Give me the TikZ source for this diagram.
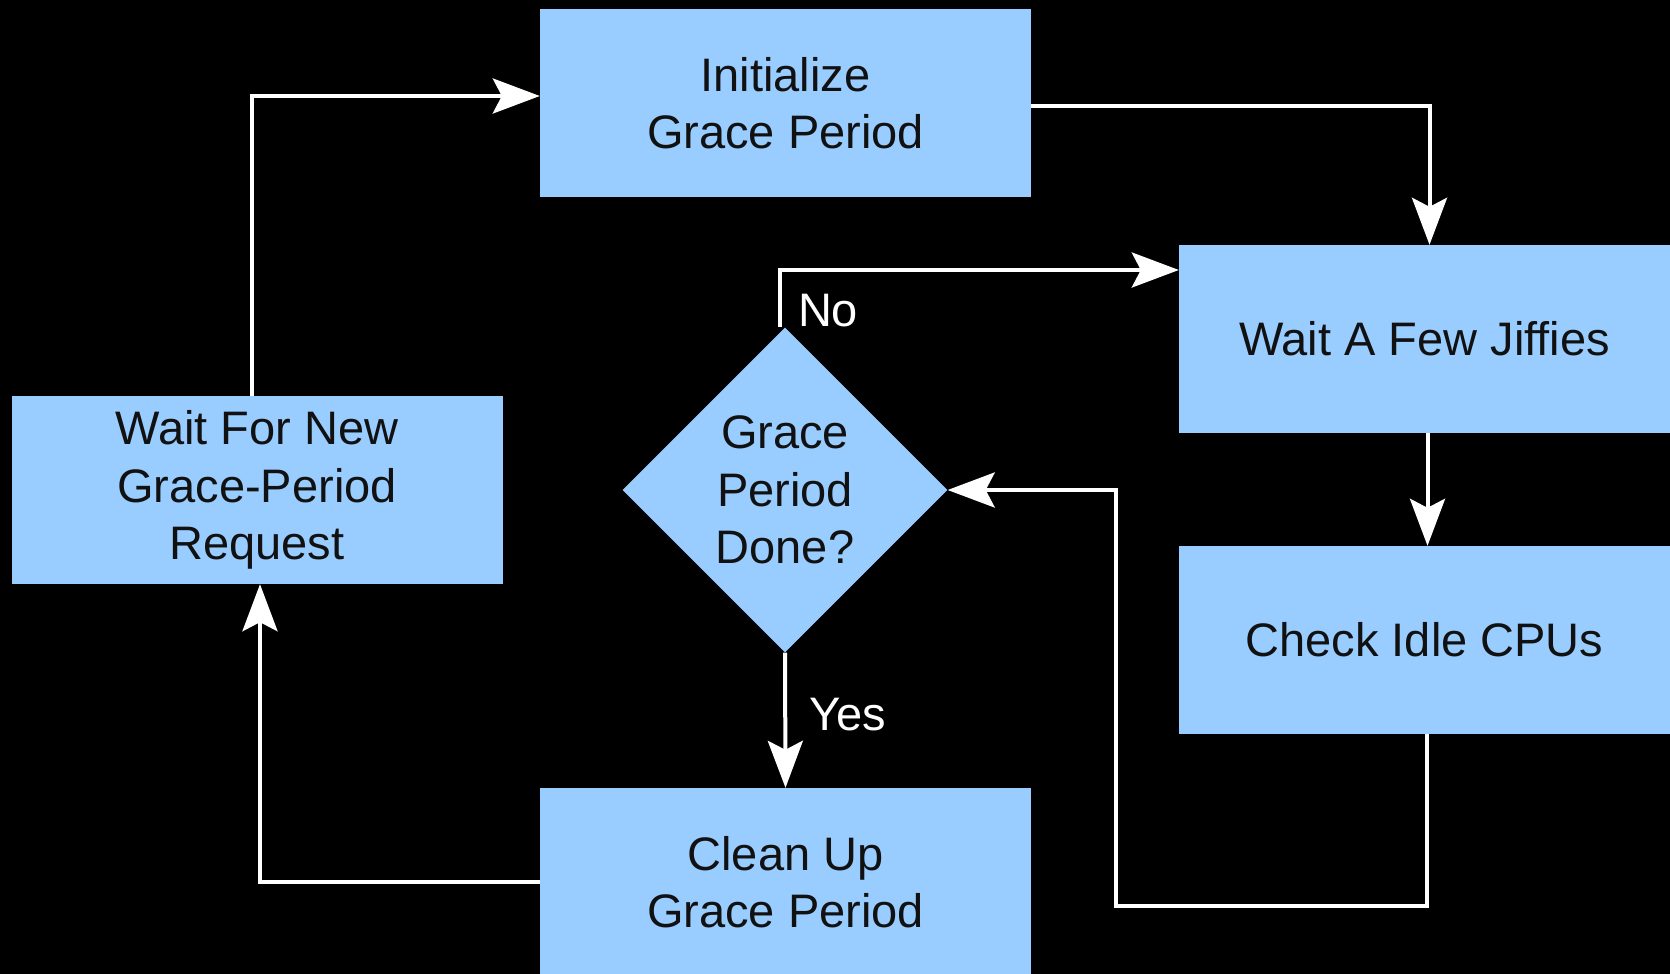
\documentclass[tikz,border=0pt]{standalone}
\usepackage{fontspec}
\setmainfont{Liberation Sans}
\usetikzlibrary{arrows.meta,shapes.geometric,positioning}

\definecolor{boxblue}{HTML}{99CCFF}
\definecolor{boxtext}{HTML}{111111}

\begin{document}
\begin{tikzpicture}[
  x=1pt, y=-1pt,
  font=\fontsize{47}{57.5}\selectfont,
  >={Stealth[length=47pt,width=35pt,inset=9pt]},
  stepbox/.style={rectangle, fill=boxblue, text=boxtext, align=center,
                  minimum width=491pt, minimum height=188pt, inner sep=0pt},
  decide/.style={diamond, fill=boxblue, text=boxtext, align=center,
                 minimum width=325pt, minimum height=325pt, inner sep=0pt},
  edge/.style={->, draw=white, line width=4pt},
  lbl/.style={text=white, inner sep=2pt},
]
\fill[black] (0,0) rectangle (1670,974);
\useasboundingbox (0,0) rectangle (1670,974);

\node[stepbox] (init)    at (785.5,103)  {Initialize\\Grace Period};
\node[stepbox] (jiffies) at (1424.5,339) {Wait A Few Jiffies};
\node[stepbox] (check)   at (1424.5,640) {Check Idle CPUs};
\node[stepbox] (cleanup) at (785.5,882)  {Clean Up\\Grace Period};
\node[stepbox] (waitnew) at (257,490)    {Wait For New\\Grace-Period\\Request};
\node[decide]  (done)    at (785,490)    {Grace\\Period\\Done?};

\coordinate (loopbl) at (1116,906);

\draw[edge] ([xshift=-5pt]waitnew.north) |- ([yshift=7pt]init.west);
\draw[edge] ([yshift=-3pt]init.east) -| ([xshift=5pt]jiffies.north);
\draw[edge] ([xshift=3pt]jiffies.south) -- ([xshift=3pt]check.north);
\draw[edge] ([xshift=2pt]check.south) |- (loopbl) |- (done.east);
\draw[edge] ([xshift=-5pt]done.north) |- node[lbl,pos=0.15,anchor=west,xshift=14pt]
  {No} ([yshift=69pt]jiffies.west);
\draw[edge] (done.south) -- node[lbl,pos=0.46,anchor=west,xshift=20pt]
  {Yes} (cleanup.north);
\draw[edge] (cleanup.west) -| ([xshift=3pt]waitnew.south);
\end{tikzpicture}
\end{document}
